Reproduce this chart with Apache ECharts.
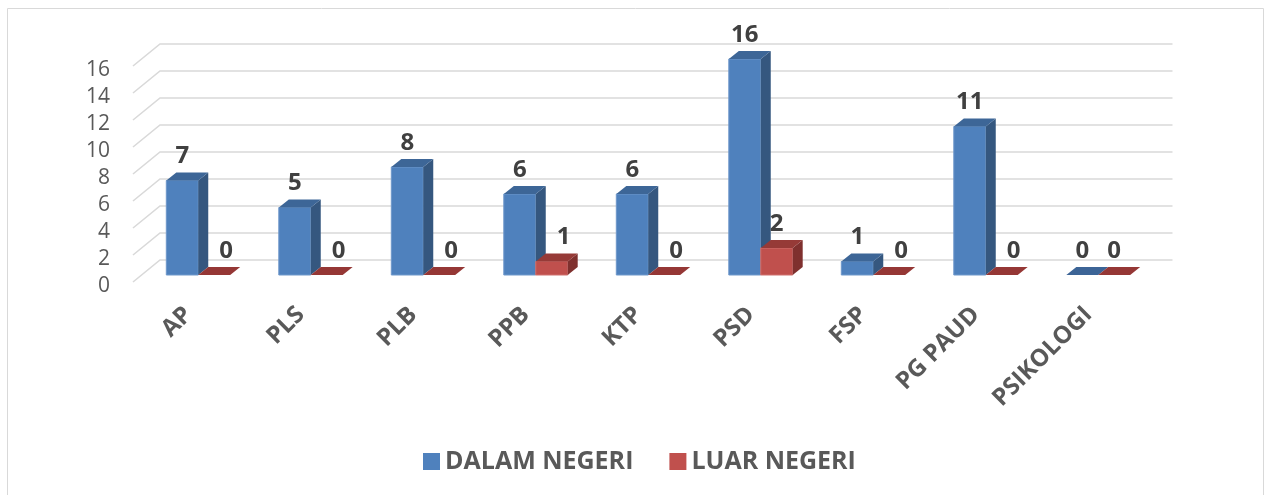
<!DOCTYPE html>
<html>
<head>
<meta charset="utf-8">
<script src="https://cdn.jsdelivr.net/npm/echarts@6/dist/echarts.min.js"></script>
<style>
  html, body { margin: 0; padding: 0; background: #fff; }
  #chart { width: 1266px; height: 495px; }
</style>
</head>
<body>
<div id="chart"></div>
<script>
(function () {
    'use strict';

    var categories = ['AP', 'PLS', 'PLB', 'PPB', 'KTP', 'PSD', 'FSP', 'PG PAUD', 'PSIKOLOGI'];
    var dalamNegeri = [7, 5, 8, 6, 6, 16, 1, 11, 0];
    var luarNegeri = [0, 0, 0, 1, 0, 2, 0, 0, 0];
    var yTicks = [0, 2, 4, 6, 8, 10, 12, 14, 16];

    var FONT = '"Open Sans", "Noto Sans", sans-serif';
    var DEPTH_X = 10, DEPTH_Y = -8;

    // one series -> 3d looking column: front, side and top faces
    function columnRenderer(slot, colors) {
        return function (params, api) {
            var cat = api.value(0);
            var val = api.value(1);
            var base = api.coord([cat, 0]);
            var top = api.coord([cat, val]);
            var band = api.size([1, 0])[0];
            var w = band * 0.284;
            var x = base[0] - w + slot * w;
            var yb = base[1];
            var yt = top[1];
            var children = [];

            if (val > 0) {
                children.push({
                    type: 'rect',
                    shape: { x: x, y: yt, width: w, height: yb - yt },
                    style: { fill: colors.front, stroke: colors.edge, lineWidth: 1 }
                });
                children.push({
                    type: 'polygon',
                    shape: { points: [[x + w, yt], [x + w + DEPTH_X, yt + DEPTH_Y], [x + w + DEPTH_X, yb + DEPTH_Y], [x + w, yb]] },
                    style: { fill: colors.side }
                });
            }
            children.push({
                type: 'polygon',
                shape: { points: [[x, yt], [x + DEPTH_X, yt + DEPTH_Y], [x + w + DEPTH_X, yt + DEPTH_Y], [x + w, yt]] },
                style: { fill: val > 0 ? colors.top : colors.flat }
            });

            // excel pushes the small red labels off the blue column
            var nudge = 0;
            if (slot === 1 && val <= 1 && dalamNegeri[cat] > 0) {
                nudge = 12;
            }
            children.push({
                type: 'text',
                style: {
                    text: String(val),
                    x: x + w / 2 + nudge,
                    y: yt + DEPTH_Y - 4,
                    align: 'center',
                    verticalAlign: 'bottom',
                    fontSize: 24,
                    fontWeight: 'bold',
                    fontFamily: FONT,
                    fill: '#404040'
                }
            });
            return { type: 'group', children: children };
        };
    }

    function gridRenderer(params, api) {
        var cs = params.coordSys;
        var y = api.coord([0, api.value(1)])[1];
        return {
            type: 'polyline',
            shape: { points: [[cs.x - 9, y + 7], [cs.x + 18, y - 15], [cs.x + cs.width + 18, y - 15]] },
            style: { stroke: '#d9d9d9', lineWidth: 1.6, fill: null }
        };
    }

    var blueData = dalamNegeri.map(function (v, i) { return [i, v]; });
    var redData = luarNegeri.map(function (v, i) { return [i, v]; });
    var gridData = yTicks.map(function (v) { return [0, v]; });

    var myChart = echarts.init(document.getElementById('chart'));

    myChart.setOption({
        animation: false,
        graphic: [{
            type: 'rect',
            shape: { x: 7.5, y: 8.5, width: 1256, height: 500 },
            style: { fill: null, stroke: '#d9d9d9', lineWidth: 1 },
            silent: true
        }],
        grid: { left: 142, right: 111.5, top: 59, bottom: 220 },
        legend: {
            bottom: 16,
            left: 418,
            itemWidth: 17,
            itemHeight: 17,
            itemGap: 36,
            icon: 'rect',
            textStyle: { fontSize: 25, fontWeight: 'bold', color: '#595959', fontFamily: FONT },
            data: ['DALAM NEGERI', 'LUAR NEGERI']
        },
        xAxis: {
            type: 'category',
            data: categories,
            axisLine: { show: false },
            axisTick: { show: false },
            splitLine: { show: false },
            axisLabel: {
                interval: 0,
                rotate: 45,
                margin: 26,
                padding: [0, 14, 0, 0],
                fontSize: 24,
                fontWeight: 'bold',
                color: '#595959',
                fontFamily: FONT
            }
        },
        yAxis: {
            type: 'value',
            min: 0,
            max: 16,
            interval: 2,
            axisLine: { show: false },
            axisTick: { show: false },
            splitLine: { show: false },
            axisLabel: {
                margin: 32,
                fontSize: 21,
                color: '#595959',
                fontFamily: FONT,
                verticalAlign: 'top',
                lineHeight: 22
            }
        },
        series: [{
            type: 'custom',
            name: 'grid',
            silent: true,
            z: 1,
            renderItem: gridRenderer,
            data: gridData
        }, {
            type: 'custom',
            name: 'DALAM NEGERI',
            z: 2,
            itemStyle: { color: '#4F81BD' },
            renderItem: columnRenderer(0, { front: '#4F81BD', side: '#35577F', top: '#3D6697', flat: '#3C6496', edge: '#6E98CB' }),
            data: blueData
        }, {
            type: 'custom',
            name: 'LUAR NEGERI',
            z: 3,
            itemStyle: { color: '#C0504D' },
            renderItem: columnRenderer(1, { front: '#C0504D', side: '#7F302E', top: '#963A37', flat: '#953735', edge: '#D0716E' }),
            data: redData
        }]
    });
}());
</script>
</body>
</html>
